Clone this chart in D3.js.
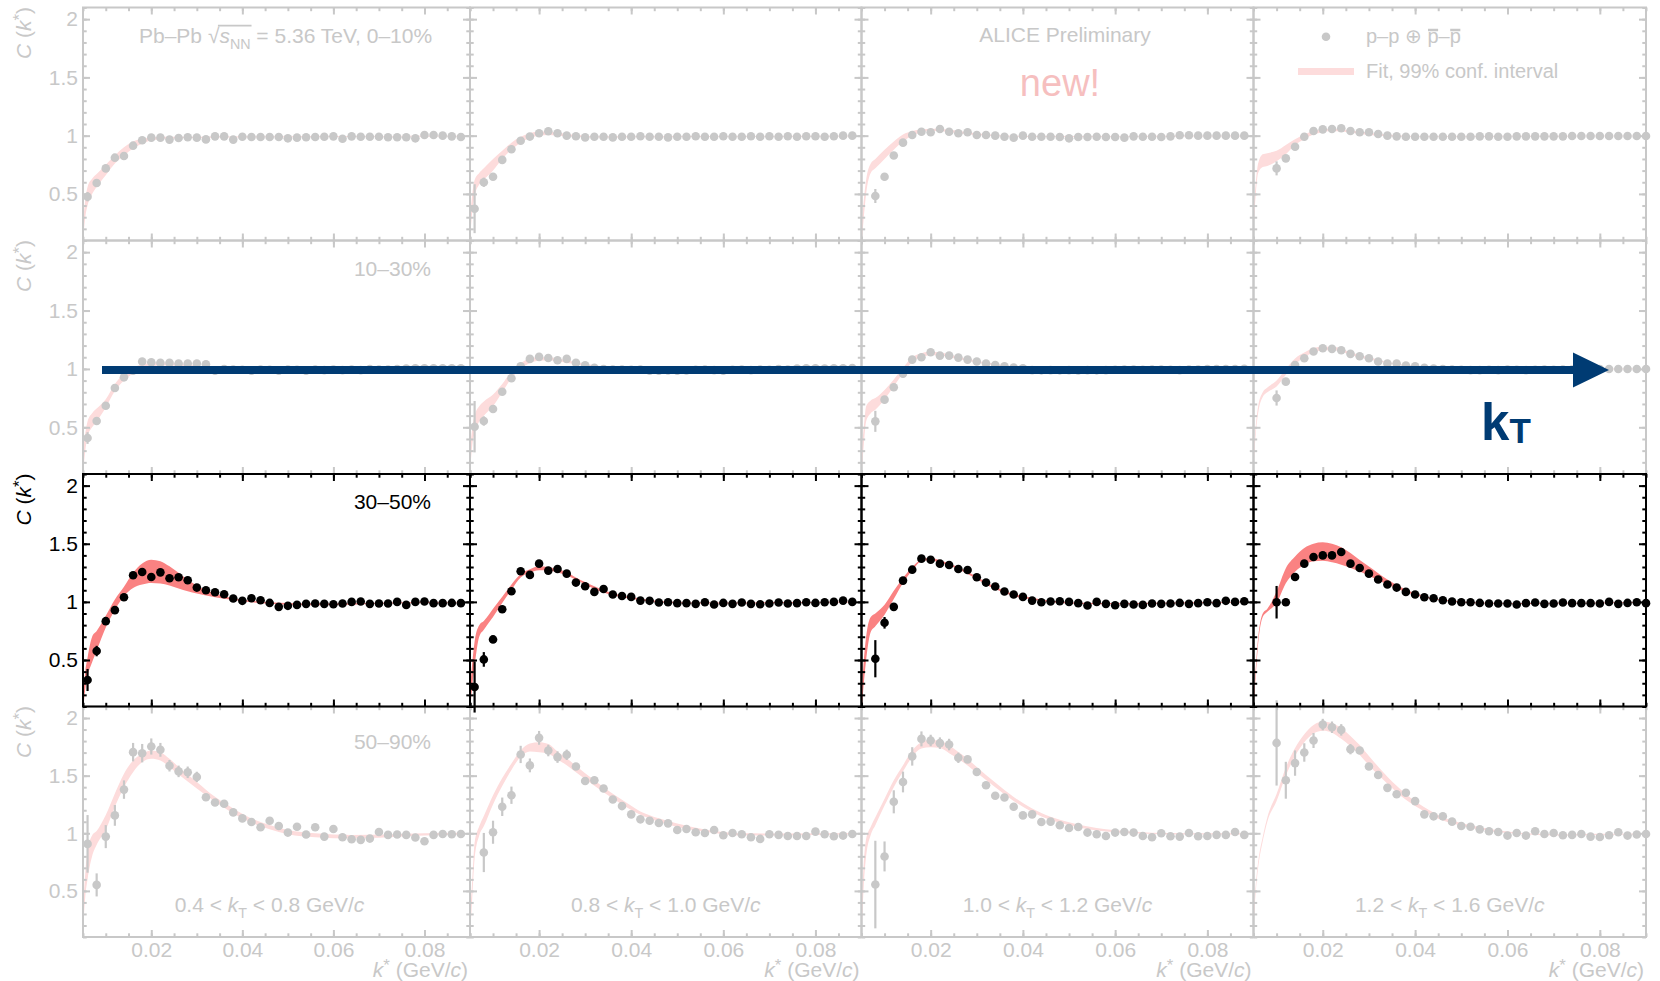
<!DOCTYPE html>
<meta charset="utf-8">
<style>
body { margin: 0; background: #fff; }
svg { display: block; font-family: "Liberation Sans", Arial, Helvetica, sans-serif; }
</style>
<svg id="chart" width="1660" height="981"></svg>
<script src="https://d3js.org/d3.v7.min.js"></script>
<script>

// k* bin centres (GeV/c)
var kBins = [0.006, 0.008, 0.010, 0.012, 0.014, 0.016, 0.018, 0.020, 0.022, 0.024,
  0.026, 0.028, 0.030, 0.032, 0.034, 0.036, 0.038, 0.040, 0.042, 0.044, 0.046,
  0.048, 0.050, 0.052, 0.054, 0.056, 0.058, 0.060, 0.062, 0.064, 0.066, 0.068,
  0.070, 0.072, 0.074, 0.076, 0.078, 0.080, 0.082, 0.084, 0.086, 0.088, 0.090];

var centLabels = ["0\u201310%", "10\u201330%", "30\u201350%", "50\u201390%"];
var centKeys = ["0010", "1030", "3050", "5090"];
var ktLow = ["0.4", "0.8", "1.0", "1.2"];
var ktHigh = ["0.8", "1.0", "1.2", "1.6"];
// index of first filled k* bin, per kT column (50-90% 2nd column starts one later)
var firstBin = [[0, 0, 1, 2], [0, 0, 1, 2], [0, 0, 1, 2], [0, 1, 1, 2]];

var xMajor = [0.02, 0.04, 0.06, 0.08];
var yMajor = [0.5, 1, 1.5, 2];

// ---- correlation function points ----
var pts_0010_kt1 = [0.476, 0.593, 0.719, 0.811, 0.825, 0.914, 0.96, 0.983, 0.983, 0.966, 0.98, 0.986, 0.983, 0.968, 0.994, 0.994, 0.966, 0.991, 0.989, 0.989, 0.989, 0.989, 0.977, 0.983, 0.986, 0.989, 0.991, 0.994, 0.974, 0.994, 0.991, 0.991, 0.991, 0.986, 0.986, 0.986, 0.977, 1.006, 1.006, 1.0, 0.994, 0.989];
var pts_0010_kt2 = [0.373, 0.6, 0.647, 0.792, 0.883, 0.956, 0.992, 1.02, 1.038, 1.02, 1.0, 0.995, 0.985, 0.99, 0.99, 0.985, 0.99, 0.99, 0.995, 0.99, 0.99, 0.985, 0.99, 0.99, 0.995, 0.99, 0.99, 0.995, 0.99, 0.99, 0.995, 0.99, 0.995, 0.99, 0.995, 0.99, 0.995, 0.995, 0.99, 0.995, 1.0, 1.0];
var pts_0010_kt3 = [0.482, 0.647, 0.829, 0.94, 1.006, 1.034, 1.029, 1.057, 1.034, 1.02, 1.029, 1.006, 1.006, 1.0, 0.991, 0.983, 1.0, 0.991, 0.991, 0.991, 0.989, 0.977, 0.989, 0.989, 0.991, 0.989, 0.989, 0.983, 0.994, 0.991, 0.991, 0.989, 0.994, 1.003, 1.003, 1.0, 1.0, 1.0, 1.0, 1.0, 1.0];
var pts_0010_kt4 = [0.719, 0.805, 0.905, 0.991, 1.04, 1.054, 1.057, 1.063, 1.04, 1.029, 1.029, 1.014, 1.0, 0.994, 0.991, 0.991, 0.991, 0.991, 0.991, 0.991, 0.991, 0.991, 0.994, 0.994, 0.991, 0.991, 0.994, 0.994, 0.994, 0.994, 0.994, 0.994, 0.997, 0.997, 0.997, 0.997, 0.997, 0.997, 0.997, 0.997, 0.997];

var pts_1030_kt1 = [0.408, 0.554, 0.685, 0.837, 0.928, 0.985, 1.063, 1.057, 1.052, 1.052, 1.046, 1.046, 1.046, 1.04, 0.985, 0.998, 0.995, 0.993, 0.985, 0.995, 0.993, 0.985, 0.995, 0.993, 0.985, 0.995, 0.99, 0.995, 0.99, 0.995, 0.99, 0.998, 0.995, 0.995, 1.0, 1.003, 1.006, 1.006, 1.006, 1.006, 1.006, 1.006];
var pts_1030_kt2 = [0.505, 0.554, 0.657, 0.805, 0.92, 1.023, 1.086, 1.103, 1.094, 1.074, 1.086, 1.052, 1.031, 1.01, 0.998, 0.995, 0.995, 0.993, 0.995, 0.985, 0.985, 0.987, 0.985, 0.987, 0.993, 0.995, 0.99, 0.985, 0.993, 0.995, 0.99, 0.995, 0.993, 0.998, 0.995, 1.003, 1.006, 1.006, 1.003, 1.006, 1.006, 1.008];
var pts_1030_kt3 = [0.551, 0.737, 0.843, 0.96, 1.08, 1.1, 1.143, 1.114, 1.114, 1.097, 1.08, 1.063, 1.046, 1.034, 1.023, 1.012, 1.005, 0.99, 0.988, 0.99, 0.988, 0.99, 0.987, 0.99, 0.988, 0.99, 0.993, 0.995, 0.995, 0.993, 0.995, 0.995, 0.993, 0.99, 0.995, 0.995, 0.998, 0.998, 1.0, 1.0, 1.002];
var pts_1030_kt4 = [0.751, 0.891, 1.034, 1.092, 1.149, 1.177, 1.172, 1.16, 1.129, 1.109, 1.092, 1.063, 1.046, 1.046, 1.029, 1.023, 1.01, 1.003, 0.998, 0.995, 0.993, 0.99, 0.99, 0.993, 0.99, 0.995, 0.993, 0.99, 0.993, 0.995, 0.993, 0.995, 0.995, 0.998, 0.998, 1.0, 1.0, 1.0, 1.0, 1.0, 1.0];

var pts_3050_kt1 = [0.328, 0.577, 0.834, 0.929, 1.04, 1.229, 1.257, 1.214, 1.254, 1.203, 1.212, 1.186, 1.123, 1.1, 1.083, 1.066, 1.029, 1.009, 1.031, 1.014, 0.991, 0.957, 0.966, 0.974, 0.983, 0.986, 0.983, 0.98, 0.986, 1.0, 1.003, 0.983, 0.986, 0.986, 1.0, 0.974, 1.0, 1.003, 0.989, 0.989, 0.991, 0.989];
var pts_3050_kt2 = [0.268, 0.505, 0.677, 0.937, 1.091, 1.263, 1.232, 1.329, 1.269, 1.283, 1.243, 1.166, 1.134, 1.086, 1.111, 1.063, 1.051, 1.043, 1.011, 1.009, 0.994, 0.997, 0.989, 0.989, 0.983, 0.997, 0.977, 0.991, 0.983, 0.994, 0.983, 0.98, 0.986, 0.994, 0.986, 0.989, 0.997, 0.991, 0.997, 1.0, 1.011, 1.0];
var pts_3050_kt3 = [0.511, 0.82, 0.957, 1.183, 1.277, 1.372, 1.363, 1.329, 1.317, 1.283, 1.274, 1.212, 1.166, 1.132, 1.089, 1.063, 1.043, 1.011, 0.997, 1.003, 1.006, 1.0, 0.989, 0.969, 1.0, 0.983, 0.971, 0.983, 0.977, 0.974, 0.986, 0.983, 0.986, 0.991, 0.983, 0.989, 0.997, 0.989, 1.009, 1.0, 1.006];
var pts_3050_kt4 = [0.997, 0.997, 1.214, 1.329, 1.386, 1.4, 1.4, 1.429, 1.329, 1.292, 1.243, 1.192, 1.149, 1.123, 1.086, 1.063, 1.04, 1.031, 1.014, 1.003, 0.997, 0.997, 0.991, 0.986, 0.986, 0.986, 0.977, 0.989, 0.994, 0.983, 0.986, 0.994, 0.989, 0.989, 0.989, 0.986, 1.0, 0.983, 0.991, 0.997, 0.989];

var pts_5090_kt1 = [0.908, 0.552, 0.971, 1.155, 1.379, 1.704, 1.695, 1.753, 1.724, 1.586, 1.537, 1.529, 1.489, 1.313, 1.267, 1.256, 1.181, 1.129, 1.098, 1.052, 1.109, 1.063, 1.006, 1.057, 0.989, 1.052, 0.971, 1.037, 0.966, 0.948, 0.943, 0.954, 1.011, 0.986, 0.989, 0.986, 0.963, 0.931, 0.986, 0.994, 0.991, 0.994];
var pts_5090_kt2 = [0.833, 1.009, 1.23, 1.33, 1.684, 1.589, 1.828, 1.718, 1.661, 1.681, 1.58, 1.454, 1.46, 1.388, 1.293, 1.236, 1.164, 1.121, 1.109, 1.089, 1.086, 1.029, 1.037, 1.009, 1.003, 1.029, 0.983, 1.003, 0.991, 0.966, 0.951, 0.991, 0.986, 0.977, 0.977, 0.977, 1.014, 0.991, 0.974, 0.98, 0.994];
var pts_5090_kt3 = [0.555, 0.799, 1.273, 1.445, 1.667, 1.819, 1.805, 1.782, 1.77, 1.655, 1.641, 1.532, 1.417, 1.325, 1.31, 1.23, 1.155, 1.164, 1.098, 1.101, 1.069, 1.046, 1.055, 1.006, 0.991, 0.977, 1.006, 1.011, 1.006, 0.977, 0.966, 1.0, 0.974, 0.971, 1.003, 0.974, 0.977, 0.986, 0.986, 1.011, 0.986];
var pts_5090_kt4 = [1.784, 1.46, 1.609, 1.701, 1.805, 1.943, 1.92, 1.897, 1.73, 1.718, 1.58, 1.506, 1.394, 1.339, 1.351, 1.279, 1.164, 1.147, 1.147, 1.101, 1.063, 1.057, 1.034, 1.017, 1.011, 0.98, 1.003, 0.98, 1.017, 0.994, 1.003, 0.983, 0.986, 0.994, 0.971, 0.968, 0.983, 1.009, 0.98, 0.989, 0.994];

// ---- statistical errors of the first bins (the rest hide under the markers) ----
var err_0010_kt1 = [0.04, 0.03];
var err_0010_kt2 = [0.21, 0.04];
var err_0010_kt3 = [0.06, 0.03];
var err_0010_kt4 = [0.06, 0.03];
var err_1030_kt1 = [0.05, 0.03];
var err_1030_kt2 = [0.22, 0.04];
var err_1030_kt3 = [0.09, 0.03];
var err_1030_kt4 = [0.065, 0.03];
var err_3050_kt1 = [0.095, 0.045, 0.03];
var err_3050_kt2 = [0.22, 0.063, 0.03];
var err_3050_kt3 = [0.16, 0.05, 0.03];
var err_3050_kt4 = [0.14, 0.03];
var err_5090_kt1 = [0.25, 0.1, 0.1, 0.09, 0.08, 0.08, 0.08, 0.07, 0.06, 0.05, 0.05, 0.05, 0.045];
var err_5090_kt2 = [0.17, 0.1, 0.08, 0.075, 0.075, 0.06, 0.06, 0.05, 0.05, 0.045];
var err_5090_kt3 = [0.38, 0.13, 0.1, 0.09, 0.08, 0.065, 0.05, 0.05, 0.05, 0.045];
var err_5090_kt4 = [0.37, 0.16, 0.11, 0.08, 0.065, 0.05, 0.05, 0.05, 0.045];

// ---- fit, 99% confidence band (lower / upper edge at fitK) ----
var fitK = [0.005, 0.0055, 0.006, 0.007, 0.008, 0.010, 0.012, 0.014, 0.016, 0.018, 0.020, 0.022, 0.024,
  0.026, 0.028, 0.030, 0.034, 0.038, 0.042, 0.046, 0.050, 0.056, 0.064, 0.072, 0.080, 0.088];

var fitLo_0010_kt1 = [0.10, 0.30, 0.40, 0.50, 0.56, 0.66, 0.76, 0.83, 0.89, 0.93, 0.96, 0.97, 0.975, 0.978, 0.98, 0.98, 0.982, 0.984, 0.985, 0.986, 0.987, 0.988, 0.989, 0.99, 0.991, 0.992];
var fitHi_0010_kt1 = [0.25, 0.45, 0.56, 0.63, 0.67, 0.75, 0.83, 0.90, 0.95, 0.975, 0.985, 0.99, 0.99, 0.99, 0.99, 0.99, 0.992, 0.993, 0.994, 0.995, 0.995, 0.996, 0.997, 0.998, 0.999, 1.0];
var fitLo_0010_kt2 = [0.10, 0.35, 0.48, 0.58, 0.62, 0.70, 0.80, 0.88, 0.94, 0.98, 1.0, 1.005, 1.0, 0.995, 0.99, 0.987, 0.985, 0.985, 0.986, 0.987, 0.988, 0.989, 0.99, 0.99, 0.991, 0.992];
var fitHi_0010_kt2 = [0.30, 0.50, 0.62, 0.68, 0.72, 0.80, 0.87, 0.94, 0.99, 1.02, 1.035, 1.035, 1.025, 1.015, 1.005, 1.0, 0.995, 0.994, 0.995, 0.995, 0.996, 0.997, 0.997, 0.998, 0.999, 1.0];
var fitLo_0010_kt3 = [0.05, 0.30, 0.50, 0.68, 0.72, 0.80, 0.88, 0.95, 1.0, 1.03, 1.04, 1.04, 1.03, 1.02, 1.01, 1.005, 0.995, 0.99, 0.988, 0.988, 0.988, 0.989, 0.99, 0.991, 0.992, 0.993];
var fitHi_0010_kt3 = [0.20, 0.45, 0.62, 0.76, 0.80, 0.88, 0.95, 1.01, 1.04, 1.055, 1.06, 1.06, 1.05, 1.04, 1.03, 1.02, 1.005, 1.0, 0.997, 0.996, 0.996, 0.997, 0.998, 0.999, 1.0, 1.0];
var fitLo_0010_kt4 = [0.20, 0.50, 0.68, 0.73, 0.74, 0.78, 0.84, 0.92, 0.97, 1.01, 1.03, 1.04, 1.035, 1.025, 1.015, 1.005, 0.995, 0.99, 0.99, 0.99, 0.99, 0.991, 0.992, 0.993, 0.994, 0.995];
var fitHi_0010_kt4 = [0.35, 0.60, 0.76, 0.84, 0.85, 0.87, 0.92, 0.97, 1.01, 1.04, 1.055, 1.06, 1.055, 1.045, 1.035, 1.025, 1.01, 1.0, 0.998, 0.997, 0.997, 0.998, 0.999, 1.0, 1.0, 1.0];

var fitLo_1030_kt1 = [0.10, 0.30, 0.42, 0.50, 0.55, 0.67, 0.81, 0.90, 0.96, 1.0, 1.02, 1.03, 1.03, 1.025, 1.02, 1.015, 1.0, 0.995, 0.99, 0.99, 0.99, 0.99, 0.992, 0.994, 0.996, 0.998];
var fitHi_1030_kt1 = [0.30, 0.45, 0.55, 0.62, 0.66, 0.74, 0.87, 0.96, 1.01, 1.04, 1.05, 1.055, 1.05, 1.045, 1.04, 1.03, 1.015, 1.005, 1.0, 0.998, 0.998, 0.998, 1.0, 1.002, 1.004, 1.005];
var fitLo_1030_kt2 = [0.10, 0.35, 0.45, 0.55, 0.60, 0.68, 0.80, 0.92, 1.0, 1.05, 1.07, 1.075, 1.065, 1.05, 1.04, 1.025, 1.005, 0.995, 0.99, 0.99, 0.99, 0.99, 0.992, 0.994, 0.996, 0.998];
var fitHi_1030_kt2 = [0.30, 0.50, 0.60, 0.68, 0.72, 0.78, 0.87, 0.98, 1.05, 1.09, 1.10, 1.10, 1.09, 1.075, 1.06, 1.045, 1.02, 1.005, 1.0, 0.998, 0.998, 0.998, 1.0, 1.002, 1.004, 1.005];
var fitLo_1030_kt3 = [0.10, 0.35, 0.55, 0.62, 0.65, 0.74, 0.85, 0.96, 1.06, 1.10, 1.12, 1.115, 1.10, 1.085, 1.07, 1.055, 1.03, 1.01, 1.0, 0.993, 0.99, 0.99, 0.99, 0.992, 0.995, 0.997];
var fitHi_1030_kt3 = [0.30, 0.50, 0.68, 0.73, 0.75, 0.82, 0.91, 1.01, 1.10, 1.135, 1.15, 1.14, 1.125, 1.105, 1.09, 1.07, 1.045, 1.022, 1.01, 1.002, 0.998, 0.997, 0.998, 1.0, 1.002, 1.004];
var fitLo_1030_kt4 = [0.15, 0.45, 0.62, 0.76, 0.80, 0.85, 0.95, 1.04, 1.10, 1.14, 1.16, 1.16, 1.15, 1.12, 1.10, 1.08, 1.05, 1.025, 1.01, 1.0, 0.995, 0.992, 0.992, 0.994, 0.996, 0.998];
var fitHi_1030_kt4 = [0.25, 0.52, 0.68, 0.80, 0.84, 0.90, 1.00, 1.09, 1.14, 1.18, 1.19, 1.19, 1.175, 1.14, 1.12, 1.10, 1.06, 1.035, 1.02, 1.01, 1.003, 0.999, 0.999, 1.0, 1.002, 1.004];

var fitLo_3050_kt1 = [0.05, 0.25, 0.36, 0.48, 0.58, 0.78, 0.93, 1.05, 1.12, 1.15, 1.163, 1.157, 1.14, 1.114, 1.091, 1.071, 1.04, 1.017, 0.997, 0.983, 0.975, 0.972, 0.975, 0.985, 0.99, 0.995];
var fitHi_3050_kt1 = [0.15, 0.40, 0.52, 0.70, 0.75, 0.88, 1.02, 1.13, 1.25, 1.33, 1.363, 1.35, 1.306, 1.25, 1.19, 1.14, 1.071, 1.031, 1.009, 0.997, 0.99, 0.985, 0.988, 0.995, 1.0, 1.0];
var fitLo_3050_kt2 = [0.05, 0.28, 0.45, 0.70, 0.76, 0.87, 0.99, 1.105, 1.21, 1.25, 1.272, 1.27, 1.253, 1.23, 1.19, 1.15, 1.08, 1.04, 1.015, 0.997, 0.99, 0.985, 0.985, 0.99, 0.993, 0.995];
var fitHi_3050_kt2 = [0.25, 0.48, 0.66, 0.80, 0.835, 0.94, 1.045, 1.15, 1.24, 1.28, 1.306, 1.30, 1.28, 1.255, 1.21, 1.17, 1.10, 1.055, 1.03, 1.008, 1.0, 0.995, 0.995, 0.998, 1.0, 1.002];
var fitLo_3050_kt3 = [0.05, 0.30, 0.50, 0.74, 0.79, 0.89, 1.025, 1.163, 1.27, 1.35, 1.357, 1.335, 1.313, 1.28, 1.24, 1.195, 1.11, 1.05, 1.02, 0.997, 0.985, 0.98, 0.98, 0.985, 0.99, 0.995];
var fitHi_3050_kt3 = [0.20, 0.50, 0.70, 0.87, 0.90, 0.975, 1.095, 1.206, 1.30, 1.365, 1.377, 1.357, 1.33, 1.298, 1.26, 1.215, 1.13, 1.068, 1.035, 1.009, 0.997, 0.99, 0.99, 0.995, 0.998, 1.002];
var fitLo_3050_kt4 = [0.08, 0.38, 0.64, 0.87, 0.915, 0.99, 1.16, 1.26, 1.32, 1.349, 1.354, 1.34, 1.32, 1.292, 1.262, 1.225, 1.149, 1.083, 1.037, 1.011, 0.995, 0.985, 0.982, 0.985, 0.988, 0.99];
var fitHi_3050_kt4 = [0.14, 0.44, 0.69, 0.90, 0.94, 1.09, 1.29, 1.39, 1.463, 1.50, 1.512, 1.50, 1.47, 1.42, 1.36, 1.305, 1.192, 1.106, 1.049, 1.02, 1.003, 0.993, 0.99, 0.992, 0.995, 0.997];

var fitLo_5090_kt1 = [0.15, 0.45, 0.60, 0.80, 0.90, 1.03, 1.23, 1.40, 1.53, 1.618, 1.647, 1.632, 1.575, 1.511, 1.45, 1.388, 1.273, 1.172, 1.092, 1.034, 0.991, 0.966, 0.955, 0.965, 0.98, 0.99];
var fitHi_5090_kt1 = [0.35, 0.65, 0.85, 0.98, 1.02, 1.158, 1.345, 1.517, 1.632, 1.69, 1.718, 1.704, 1.647, 1.575, 1.51, 1.445, 1.316, 1.216, 1.129, 1.072, 1.029, 1.0, 0.986, 0.99, 1.0, 1.005];
var fitLo_5090_kt2 = [0.10, 0.45, 0.78, 0.98, 1.06, 1.25, 1.41, 1.55, 1.665, 1.71, 1.704, 1.69, 1.64, 1.59, 1.53, 1.47, 1.355, 1.25, 1.16, 1.10, 1.055, 1.013, 0.98, 0.98, 0.985, 0.99];
var fitHi_5090_kt2 = [0.30, 0.60, 0.92, 1.06, 1.15, 1.33, 1.48, 1.605, 1.72, 1.78, 1.79, 1.775, 1.71, 1.65, 1.585, 1.52, 1.40, 1.29, 1.19, 1.13, 1.084, 1.033, 1.0, 0.998, 1.0, 1.003];
var fitLo_5090_kt3 = [0.10, 0.55, 0.80, 0.986, 1.07, 1.24, 1.40, 1.535, 1.665, 1.735, 1.747, 1.739, 1.695, 1.645, 1.589, 1.525, 1.40, 1.28, 1.185, 1.115, 1.07, 1.025, 1.0, 0.99, 0.99, 0.99];
var fitHi_5090_kt3 = [0.35, 0.75, 0.95, 1.057, 1.14, 1.30, 1.46, 1.59, 1.72, 1.79, 1.81, 1.805, 1.761, 1.705, 1.645, 1.575, 1.44, 1.315, 1.215, 1.144, 1.095, 1.045, 1.014, 1.002, 1.0, 1.0];
var fitLo_5090_kt4 = [0.20, 0.50, 0.70, 0.93, 1.10, 1.28, 1.50, 1.67, 1.79, 1.865, 1.89, 1.873, 1.82, 1.755, 1.68, 1.59, 1.43, 1.29, 1.19, 1.11, 1.065, 1.02, 0.99, 0.98, 0.985, 0.99];
var fitHi_5090_kt4 = [0.30, 0.56, 0.75, 0.97, 1.14, 1.34, 1.57, 1.74, 1.86, 1.94, 1.97, 1.957, 1.912, 1.845, 1.765, 1.67, 1.49, 1.34, 1.225, 1.14, 1.09, 1.04, 1.0, 0.99, 0.995, 0.998];

// lookup table built from the arrays above
var table = {
  "0010": [[pts_0010_kt1, err_0010_kt1, fitLo_0010_kt1, fitHi_0010_kt1], [pts_0010_kt2, err_0010_kt2, fitLo_0010_kt2, fitHi_0010_kt2], [pts_0010_kt3, err_0010_kt3, fitLo_0010_kt3, fitHi_0010_kt3], [pts_0010_kt4, err_0010_kt4, fitLo_0010_kt4, fitHi_0010_kt4]],
  "1030": [[pts_1030_kt1, err_1030_kt1, fitLo_1030_kt1, fitHi_1030_kt1], [pts_1030_kt2, err_1030_kt2, fitLo_1030_kt2, fitHi_1030_kt2], [pts_1030_kt3, err_1030_kt3, fitLo_1030_kt3, fitHi_1030_kt3], [pts_1030_kt4, err_1030_kt4, fitLo_1030_kt4, fitHi_1030_kt4]],
  "3050": [[pts_3050_kt1, err_3050_kt1, fitLo_3050_kt1, fitHi_3050_kt1], [pts_3050_kt2, err_3050_kt2, fitLo_3050_kt2, fitHi_3050_kt2], [pts_3050_kt3, err_3050_kt3, fitLo_3050_kt3, fitHi_3050_kt3], [pts_3050_kt4, err_3050_kt4, fitLo_3050_kt4, fitHi_3050_kt4]],
  "5090": [[pts_5090_kt1, err_5090_kt1, fitLo_5090_kt1, fitHi_5090_kt1], [pts_5090_kt2, err_5090_kt2, fitLo_5090_kt2, fitHi_5090_kt2], [pts_5090_kt3, err_5090_kt3, fitLo_5090_kt3, fitHi_5090_kt3], [pts_5090_kt4, err_5090_kt4, fitLo_5090_kt4, fitHi_5090_kt4]]
};

// layout
var colEdges = [83, 470, 861.5, 1253.5, 1646];
var rowEdges = [7.5, 240.5, 474, 706.5, 937];
var labelBase = [42.5, 276, 509, 749];
var activeRow = 2;
var GRAY = "#c8c8c8", BAND_FADED = "#fddcdc", BAND_RED = "#fa8282", NAVY = "#003b73";
var FS = 21;

var svg = d3.select("#chart");
var defs = svg.append("defs");

function rich(parent, x, y, parts, size, fill, anchor) {
  var t = parent.append("text").attr("x", x).attr("y", y)
    .attr("font-size", size).attr("fill", fill).attr("text-anchor", anchor || "start");
  var shift = 0;
  parts.forEach(function (p) {
    var s = t.append("tspan").text(p[0]);
    var style = p[1] || "", want = 0, fs = size;
    if (style.indexOf("sub") >= 0) { want = 0.3 * size; fs = 0.68 * size; }
    if (style.indexOf("sup") >= 0) { want = -0.3 * size; fs = 0.8 * size; }
    if (style.indexOf("i") === 0) s.attr("font-style", "italic");
    s.attr("font-size", fs);
    if (want !== shift) { s.attr("dy", want - shift); shift = want; }
  });
  return t;
}

function axis(g, ax, tx, ty, vals, size, ink, fmt, pad) {
  var a = g.append("g").attr("transform", "translate(" + tx + "," + ty + ")")
    .call(ax.tickValues(vals).tickSize(-size).tickPadding(pad || 0)
      .tickFormat(fmt ? function (d) { return String(d); } : ""));
  a.select(".domain").remove();
  a.attr("color", ink).attr("font-family", null).attr("font-size", FS);
  a.selectAll("line").attr("stroke-width", 2);
  return a;
}

var xMinor = d3.range(1, 19).map(function (i) { return i * 0.005; });
var yMinor = d3.range(1, 22).map(function (i) { return i / 10; });

function drawPanel(r, c) {
  var x0 = colEdges[c], x1 = colEdges[c + 1], y0 = rowEdges[r], y1 = rowEdges[r + 1];
  var x = d3.scaleLinear().domain([0.005, 0.09]).range([x0, x1]);
  var y = d3.scaleLinear().domain([0.1, 2.1]).range([y1, y0]);
  var faded = r !== activeRow;
  var ink = faded ? GRAY : "#000";
  var set = table[centKeys[r]][c];
  var pts = set[0], err = set[1], lo = set[2], hi = set[3];
  var g = svg.append("g");

  var id = "clip" + r + c;
  defs.append("clipPath").attr("id", id).append("rect")
    .attr("x", x0).attr("y", y0).attr("width", x1 - x0).attr("height", y1 - y0);

  var band = d3.area()
    .x(function (d, i) { return x(fitK[i]); })
    .y0(function (d) { return y(d[0]); })
    .y1(function (d) { return y(d[1]); })
    .curve(d3.curveMonotoneX);
  g.append("path").datum(d3.zip(lo, hi)).attr("d", band)
    .attr("fill", faded ? BAND_FADED : BAND_RED).attr("clip-path", "url(#" + id + ")");

  g.append("rect").attr("x", x0).attr("y", y0).attr("width", x1 - x0).attr("height", y1 - y0)
    .attr("fill", "none").attr("stroke", ink).attr("stroke-width", 2);

  axis(g, d3.axisBottom(x), 0, y1, xMinor, 3.7, ink);
  axis(g, d3.axisTop(x), 0, y0, xMinor, 3.7, ink);
  axis(g, d3.axisLeft(y), x0, 0, yMinor, 3.7, ink);
  axis(g, d3.axisRight(y), x1, 0, yMinor, 3.7, ink);
  axis(g, d3.axisBottom(x), 0, y1, xMajor, 7, ink, r === 3, 5);
  axis(g, d3.axisTop(x), 0, y0, xMajor, 7, ink);
  axis(g, d3.axisLeft(y), x0, 0, yMajor, 7, ink, c === 0, 5);
  axis(g, d3.axisRight(y), x1, 0, yMajor, 7, ink);

  var ks = kBins.slice(firstBin[r][c], firstBin[r][c] + pts.length);
  g.selectAll(".eb").data(err).enter().append("line")
    .attr("x1", function (d, i) { return x(ks[i]); })
    .attr("x2", function (d, i) { return x(ks[i]); })
    .attr("y1", function (d, i) { return y(pts[i] - d); })
    .attr("y2", function (d, i) { return y(pts[i] + d); })
    .attr("stroke", ink).attr("stroke-width", 2.2);
  g.selectAll(".pt").data(pts).enter().append("circle")
    .attr("cx", function (d, i) { return x(ks[i]); })
    .attr("cy", function (d) { return y(d); })
    .attr("r", 4.3).attr("fill", ink);

  // y title
  if (c === 0) {
    var yt = g.append("g").attr("transform", "translate(31," + (y0 - 0.5) + ") rotate(-90)");
    rich(yt, 0, 0, [["C", "i"], [" ("], ["k", "i"], ["*", "sup"], [")"]], FS, ink, "end");
  }
  // centrality
  if (c === 0 && r > 0) {
    rich(g, 431, labelBase[r], [[centLabels[r]]], FS, ink, "end");
  }
  // bottom row: kT range and x title
  if (r === 3) {
    var cx = (x0 + x1) / 2 - (c === 0 ? 7 : 0);
    rich(g, cx, 911.5, [[ktLow[c] + " < "], ["k", "i"], ["T", "sub"], [" < " + ktHigh[c] + " GeV/"], ["c", "i"]], FS, ink, "middle");
    rich(g, x1 - 2, 977, [["k", "i"], ["*", "sup"], [" (GeV/"], ["c", "i"], [")"]], FS, ink, "end");
  }
}

[0, 1, 3, 2].forEach(function (r) {
  for (var c = 0; c < 4; c++) drawPanel(r, c);
});

// top-row annotations
var notes = svg.append("g");
var sys = rich(notes, 139, 42.5, [["Pb\u2013Pb "], ["\u221A"], ["s", "i"], ["NN", "sub"], [" = 5.36 TeV, 0\u201310%"]], FS, GRAY, "start");
var eR = sys.node().getExtentOfChar(6), eN = sys.node().getExtentOfChar(9);
notes.append("line").attr("x1", eR.x + eR.width - 1.5).attr("x2", eN.x + eN.width + 1)
  .attr("y1", 42.5 - 0.8 * FS).attr("y2", 42.5 - 0.8 * FS).attr("stroke", GRAY).attr("stroke-width", 1.8);

rich(notes, 1065, 41.5, [["ALICE Preliminary"]], FS, GRAY, "middle");
rich(notes, 1060, 96, [["new!"]], 38, "#f6bfbf", "middle");

// legend
notes.append("circle").attr("cx", 1326).attr("cy", 36.7).attr("r", 4.3).attr("fill", GRAY);
var leg = rich(notes, 1366, 43, [["p\u2013p \u2295 p\u2013p"]], 20, GRAY, "start");
[6, 8].forEach(function (ci) {
  var e = leg.node().getExtentOfChar(ci);
  notes.append("line").attr("x1", e.x + 0.5).attr("x2", e.x + e.width - 0.5)
    .attr("y1", 30).attr("y2", 30).attr("stroke", GRAY).attr("stroke-width", 2.5);
});
notes.append("rect").attr("x", 1298).attr("y", 68).attr("width", 56).attr("height", 7).attr("fill", BAND_FADED);
rich(notes, 1366, 78, [["Fit, 99% conf. interval"]], 20, GRAY, "start");

// kT arrow
var arr = svg.append("g");
arr.append("line").attr("x1", 102).attr("x2", 1578).attr("y1", 370).attr("y2", 370)
  .attr("stroke", NAVY).attr("stroke-width", 8);
arr.append("path").attr("d", "M1573,352.5L1609,370L1573,387.5Z").attr("fill", NAVY);
var kt = arr.append("text").attr("x", 1481).attr("y", 439.5).attr("fill", NAVY)
  .attr("font-weight", "bold").attr("font-size", 51);
kt.append("tspan").text("k");
kt.append("tspan").text("T").attr("font-size", 35).attr("dy", 3);

</script>
